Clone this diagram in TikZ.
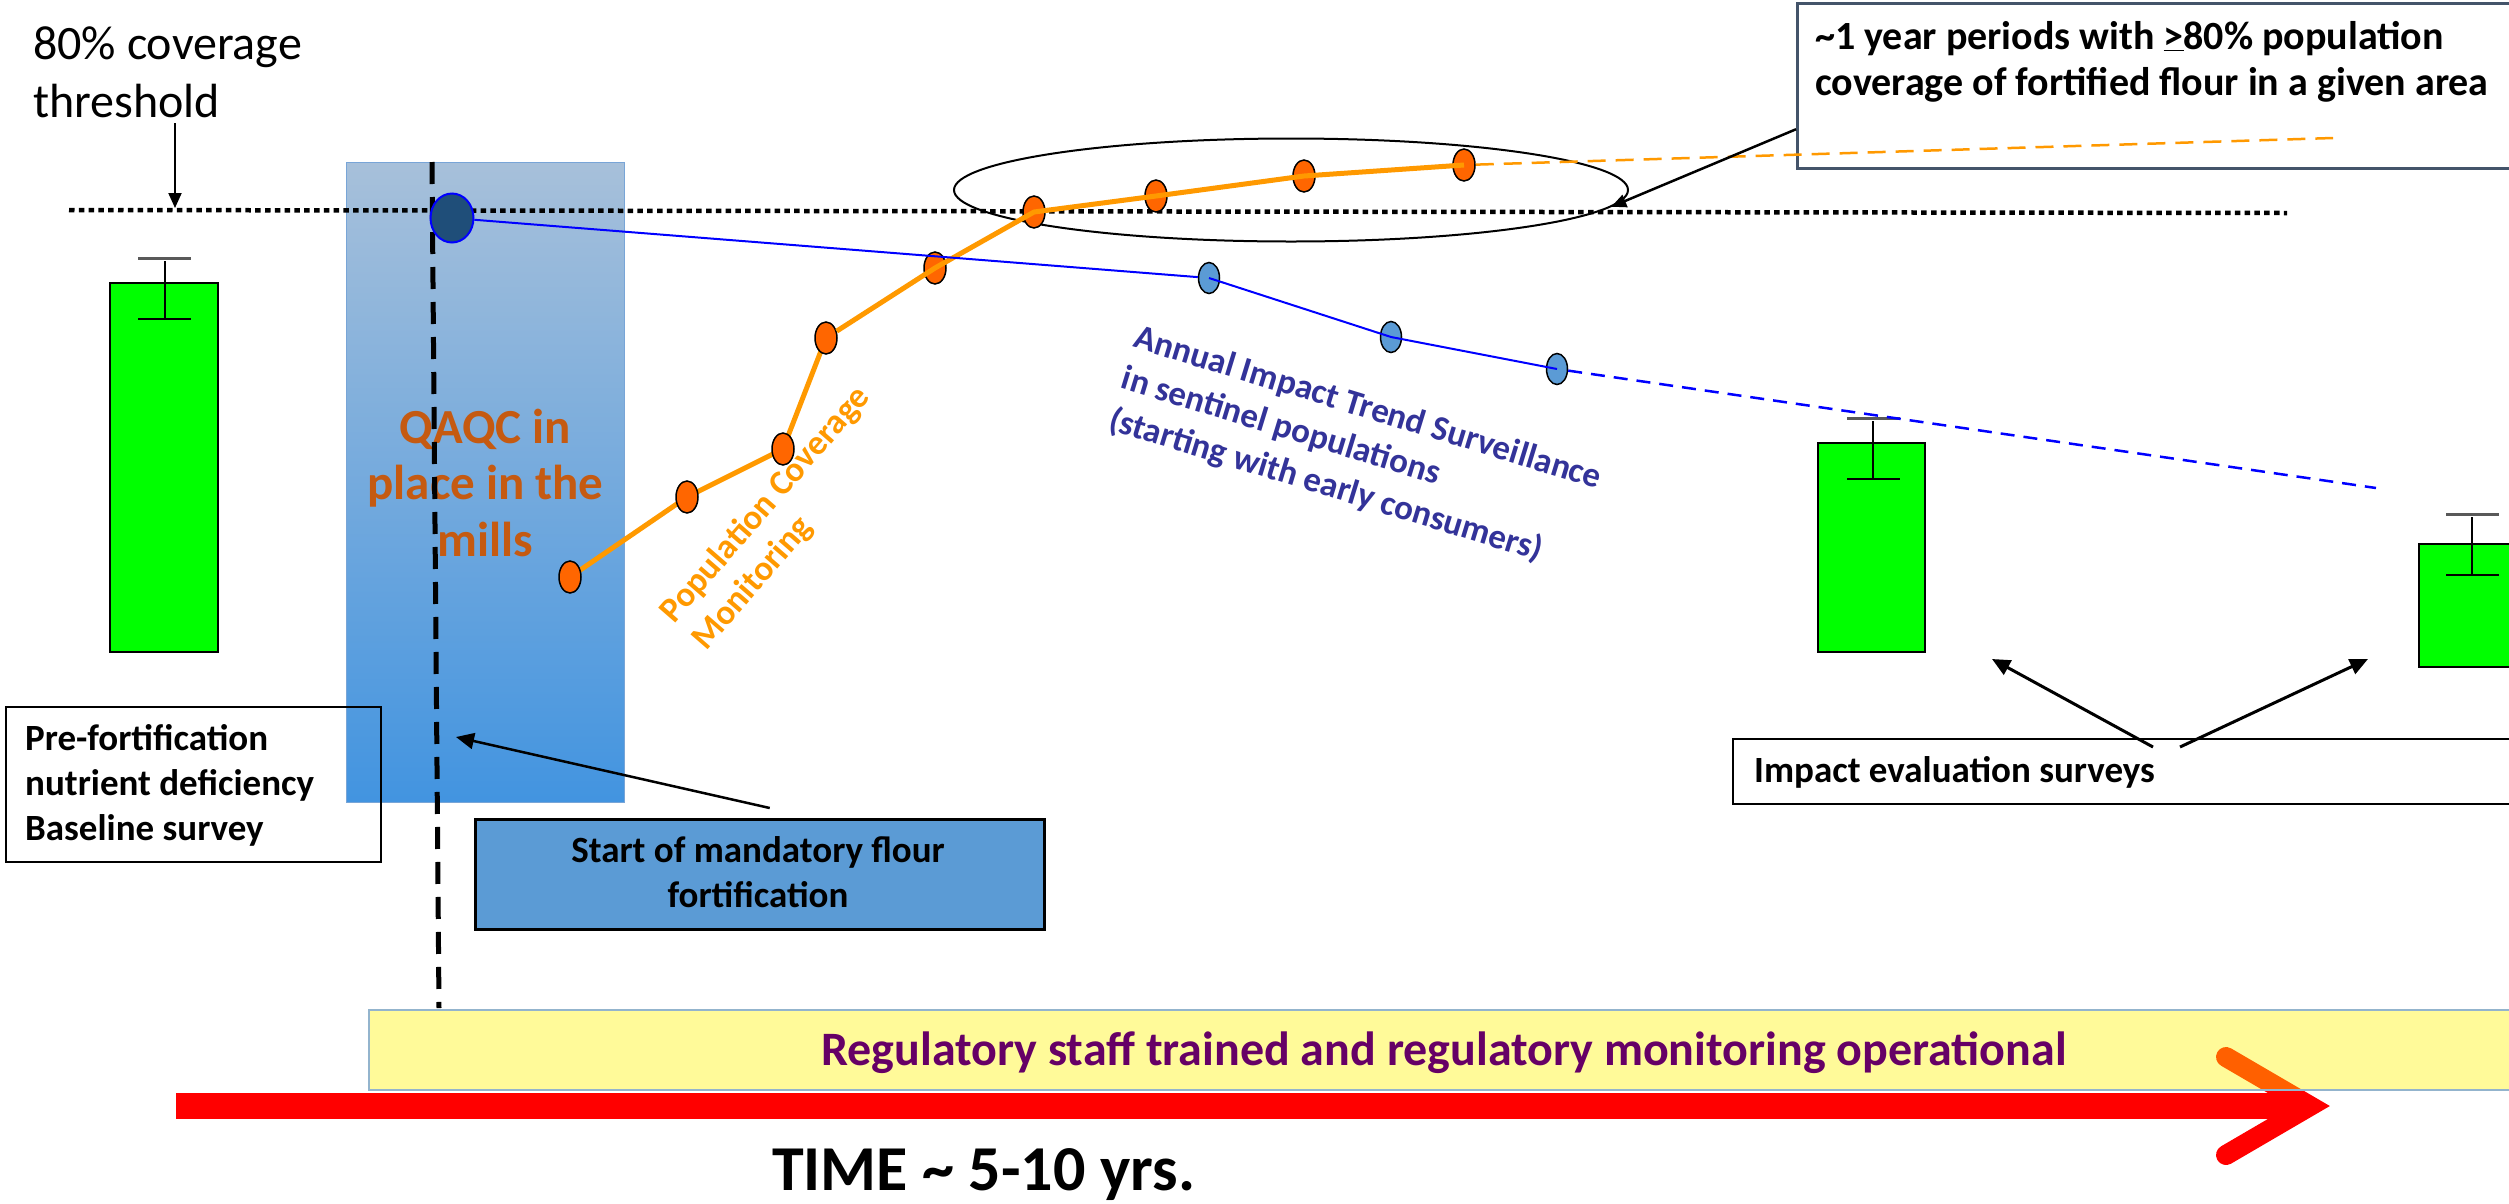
\documentclass[tikz,border=0pt]{standalone}
\usepackage{fontspec}
\setmainfont{Carlito}
\usetikzlibrary{arrows.meta,shapes.geometric,calc}
\definecolor{ptorange}{RGB}{255,102,0}
\definecolor{lnorange}{RGB}{255,153,0}
\definecolor{ptblue}{RGB}{91,155,213}
\definecolor{bigblue}{RGB}{31,78,121}
\definecolor{qaqccol}{RGB}{197,90,17}
\definecolor{annualcol}{RGB}{51,51,153}
\definecolor{callborder}{RGB}{68,84,106}
\definecolor{startfill}{RGB}{91,155,213}
\definecolor{regpurple}{RGB}{102,0,102}
\definecolor{bandedge}{RGB}{147,180,205}
\definecolor{boxtop}{RGB}{167,192,218}
\definecolor{boxbot}{RGB}{66,148,224}
\definecolor{boxedge}{RGB}{120,165,215}
\definecolor{capgray}{RGB}{89,89,89}
\definecolor{barfill}{RGB}{0,255,0}
\begin{document}
\begin{tikzpicture}[x=1pt,y=-1pt,
  opt/.style={ellipse, draw=black, line width=1.5pt, fill=ptorange, minimum width=22pt, minimum height=32pt, inner sep=0pt},
  bpt/.style={ellipse, draw=black, line width=1.5pt, fill=ptblue, minimum width=21pt, minimum height=31pt, inner sep=0pt},
  greenbar/.style={draw=black, line width=2.5pt, fill=barfill},
  errv/.style={black, line width=1.5pt},
  errtop/.style={capgray, line width=3pt},
  orline/.style={lnorange, line width=5pt, line join=round},
  ordash/.style={lnorange, line width=2.5pt, dash pattern=on 18pt off 10pt},
  blline/.style={blue, line width=2pt},
  bldash/.style={blue, line width=2.5pt, dash pattern=on 14pt off 9pt},
  arr/.style={-{Triangle[length=18pt,width=16pt]}, line width=2.5pt},
  boldtxt/.style={inner sep=0pt, font=\fontsize{37}{45}\selectfont\bfseries},
]
\useasboundingbox (0,0) rectangle (2509,1203);

% gradient QAQC box
\node[anchor=north west, minimum width=278pt, minimum height=640pt, inner sep=0pt,
  top color=boxtop, bottom color=boxbot, draw=boxedge, line width=1pt,
  align=center, text=qaqccol, font=\fontsize{49}{56.5}\selectfont\bfseries] (qaqcbox) at (346,162) {QAQC in\\place in the\\mills};

% pre-fortification box (no fill)
\node[anchor=north west, draw=black, line width=2pt, minimum width=375pt, minimum height=155pt, inner sep=0pt] (prebox) at (5,706) {};
\node[anchor=base west, align=left, boldtxt] (pretxt) at (25,840) {Pre-fortification\\nutrient deficiency\\Baseline survey};

% threshold dotted line
\coordinate (thL) at (69,210);
\coordinate (thR) at (2287,213);
\draw[line width=4.5pt, dash pattern=on 5.5pt off 4.3pt] (thL) -- (thR);

% vertical dashed line
\coordinate (vdT) at (432,162);
\coordinate (vdB) at (439,1008);
\draw[line width=5pt, dash pattern=on 22pt off 13pt] (vdT) -- (vdB);

% ellipse
\node[ellipse, draw=black, line width=2pt, minimum width=674pt, minimum height=103pt, inner sep=0pt] (ell) at (1291,190) {};

% green bars
\draw[greenbar] (110,283) rectangle (218,652);
\draw[errv] (165,261) -- (165,319);
\draw[errtop] (138,258) -- (191,258);
\draw[errv] (138,319) -- (191,319);

\draw[greenbar] (1818,443) rectangle (1925,652);
\draw[errv] (1873,421) -- (1873,479);
\draw[errtop] (1847,418) -- (1900,418);
\draw[errv] (1847,479) -- (1900,479);

\draw[greenbar] (2419,544) rectangle (2526,667);
\draw[errv] (2472,517) -- (2472,575);
\draw[errtop] (2446,514) -- (2499,514);
\draw[errv] (2446,575) -- (2499,575);

% coordinates of points
\coordinate (c1) at (570,577);
\coordinate (c2) at (687,497);
\coordinate (c3) at (783,449);
\coordinate (c4) at (826,338);
\coordinate (c5) at (935,268);
\coordinate (c6) at (1034,212);
\coordinate (c7) at (1156,196);
\coordinate (c8) at (1304,176);
\coordinate (c9) at (1464,165);
\coordinate (cb1) at (1209,278);
\coordinate (cb2) at (1391,337);
\coordinate (cb3) at (1557,369);
\coordinate (orend) at (2333,138);
\coordinate (blend) at (2376,488);

\draw[orline] (c1) -- (c2) -- (c3) -- (c4);

\node[ellipse, draw=blue, line width=2pt, fill=bigblue, minimum width=43pt, minimum height=49pt, inner sep=0pt] (big) at (452,218) {};
\node[opt] (o1) at (c1) {};
\node[opt] (o2) at (c2) {};
\node[opt] (o3) at (c3) {};
\node[opt] (o4) at (c4) {};
\node[opt] (o5) at (c5) {};
\node[opt] (o6) at (c6) {};
\node[opt] (o7) at (c7) {};
\node[opt] (o8) at (c8) {};
\node[opt] (o9) at (c9) {};
\node[bpt] (bp1) at (cb1) {};
\node[bpt] (bp2) at (cb2) {};
\node[bpt] (bp3) at (cb3) {};

\draw[orline] (o4) -- (c5) -- (c6) -- (c7) -- (c8) -- (c9);
\draw[blline] (big) -- (bp1);
\draw[blline] (cb1) -- (cb2) -- (cb3);
\draw[bldash] (bp3) -- (blend);

% threshold label
\node[anchor=base west, align=left, inner sep=0pt, font=\fontsize{48}{58}\selectfont] (thr) at (33,117) {80\% coverage\\threshold};
\coordinate (thrA) at (175,123);
\coordinate (thrB) at (175,208);
\draw[-{Triangle[length=15pt,width=13pt]}, line width=2pt] (thrA) -- (thrB);

% rotated labels
\node[anchor=base west, rotate=49, align=left, inner sep=0pt, text=lnorange, font=\fontsize{35}{42}\selectfont\bfseries] (popcov) at (706,652) {Population Coverage\\Monitoring};
\node[anchor=base west, rotate=-17, align=left, inner sep=0pt, text=annualcol, font=\fontsize{35}{43}\selectfont\bfseries] (annual) at (1107,429) {Annual Impact Trend Surveillance\\in sentinel populations\\(starting with early consumers)};

% callout box
\node[anchor=north west, draw=callborder, line width=2.5pt, fill=white, minimum width=724pt, minimum height=165pt, inner sep=0pt] (callout) at (1796,2) {};
\node[anchor=base west, align=left, inner sep=0pt, font=\fontsize{40}{46}\selectfont\bfseries] (calltxt) at (1815,95) {\textasciitilde1 year periods with \underline{>}80\% population\\coverage of fortified flour in a given area};
\draw[ordash] (o9) -- (orend);
\draw[-{Triangle[length=15pt,width=13pt]}, line width=2.5pt] ([yshift=-43.5pt]callout.west) -- (ell.-3.4);

% start box
\node[anchor=north west, draw=black, line width=2.5pt, fill=startfill, minimum width=569pt, minimum height=110pt, inner sep=0pt] (startbox) at (474,818) {};
\node[anchor=base, align=center, boldtxt] (starttxt) at (758,907) {Start of mandatory flour\\fortification};
\coordinate (startpt) at (456,737);
\draw[arr] ([xshift=10pt,yshift=10pt]startbox.north) -- (startpt);

% impact evaluation box
\node[anchor=north west, draw=black, line width=2pt, fill=white, minimum width=788pt, minimum height=65pt, inner sep=0pt] (impbox) at (1732,738) {};
\node[anchor=base west, boldtxt] (imptxt) at (1754,782) {Impact evaluation surveys};
\coordinate (impL) at (1992,659);
\coordinate (impR) at (2368,659);
\draw[arr, line width=3pt] ([xshift=421pt,yshift=-9pt]impbox.north west) -- (impL);
\draw[arr, line width=3pt] ([xshift=448pt,yshift=-9pt]impbox.north west) -- (impR);

% time arrow
\coordinate (tS) at (176,1106);
\coordinate (tE) at (2295,1106);
\coordinate (hU) at (2226,1057);
\coordinate (hT) at (2310,1106);
\coordinate (hD) at (2226,1155);
\draw[red, line width=26pt] (tS) -- (tE);
\draw[red, line width=20pt, line cap=round, line join=miter] (hU) -- (hT) -- (hD);

% regulatory band
\node[anchor=north west, draw=bandedge, line width=2pt, fill=yellow, fill opacity=0.4, draw opacity=1, minimum width=2152pt, minimum height=80pt, inner sep=0pt] (band) at (368,1009) {};
\node[anchor=base, inner sep=0pt, text=regpurple, font=\fontsize{48}{56}\selectfont\bfseries] (regtxt) at (1444,1065) {Regulatory staff trained and regulatory monitoring operational};

\node[anchor=base west, inner sep=0pt, font=\fontsize{64}{72}\selectfont\bfseries] (timetxt) at (772,1190) {TIME \textasciitilde{} 5-10 yrs.};
\end{tikzpicture}
\end{document}
